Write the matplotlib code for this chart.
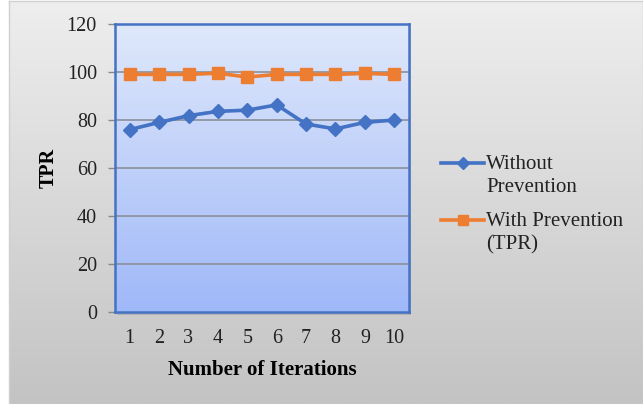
import numpy as np
import matplotlib
matplotlib.use("Agg")
import matplotlib.pyplot as plt
from matplotlib.lines import Line2D
from matplotlib.patches import Rectangle
from matplotlib.colors import LinearSegmentedColormap

iterations = [1, 2, 3, 4, 5, 6, 7, 8, 9, 10]
without_prevention = [76.0, 79.0, 81.8, 83.6, 84.1, 86.3, 78.3, 76.3, 79.0, 80.0]
with_prevention = [99.0, 99.0, 99.0, 99.5, 97.9, 99.0, 99.0, 99.0, 99.4, 99.0]
y_ticks = [0, 20, 40, 60, 80, 100, 120]
series_labels = ["Without\nPrevention", "With Prevention\n(TPR)"]

BLUE = "#4472C4"
ORANGE = "#ED7D31"
SERIF = ["Liberation Serif", "DejaVu Serif"]

W, H = 643, 404
fig = plt.figure(figsize=(W / 100, H / 100), dpi=100)
fig.patch.set_facecolor("white")

# Chart area: grey vertical gradient with a thin border
bg = fig.add_axes([9 / W, 0, 1 - 9 / W, 1 - 1 / H], zorder=-5)
grad = np.linspace(0, 1, 256).reshape(-1, 1)
grey_cmap = LinearSegmentedColormap.from_list("g", ["#eeeeee", "#c3c3c3"])
bg.imshow(grad, cmap=grey_cmap, aspect="auto", extent=[0, 1, 0, 1], origin="upper")
bg.set_xlim(0, 1); bg.set_ylim(0, 1)
bg.set_xticks([]); bg.set_yticks([])
for s in bg.spines.values():
    s.set_color("#d0d0d0"); s.set_linewidth(1.0)

# Plot area
left, right, top, bottom = 115, 409, 24, 312
ax = fig.add_axes([left / W, 1 - bottom / H, (right - left) / W, (bottom - top) / H])

blue_cmap = LinearSegmentedColormap.from_list("b", ["#dfe8fb", "#9fb8f8"])
ax.imshow(grad, cmap=blue_cmap, aspect="auto", extent=[0.5, 10.5, 0, 120],
          origin="upper", zorder=0)
ax.set_xlim(0.5, 10.5)
ax.set_ylim(0, 120)

# soft drop shadow behind the plot area
fig.add_artist(Rectangle(((left + 2) / W, 1 - (bottom + 3) / H), (right - left) / W,
                         (bottom - top) / H, transform=fig.transFigure,
                         facecolor="#9a9a9a", edgecolor="none", alpha=0.5, zorder=-1))

for y in y_ticks[1:-1]:
    ax.axhline(y, color="#8a8f9a", linewidth=1.2, zorder=1)

ax.plot(iterations, without_prevention, color=BLUE, linewidth=2.6, marker="D",
        markersize=7.5, zorder=3)
ax.plot(iterations, with_prevention, color=ORANGE, linewidth=2.6, marker="s",
        markersize=8, zorder=3)

for s in ax.spines.values():
    s.set_color(BLUE); s.set_linewidth(1.8)

ax.set_yticks(y_ticks)
ax.set_yticklabels([str(v) for v in y_ticks], fontfamily=SERIF, fontsize=14.5, color="#222222")
ax.set_xticks(iterations)
ax.set_xticklabels([str(v) for v in iterations], fontfamily=SERIF, fontsize=14.5, color="#222222")
ax.tick_params(axis="y", length=5, width=1, color="#888888", pad=8, direction="out")
ax.tick_params(axis="x", length=0, pad=12)

ax.set_ylabel("TPR", fontfamily=SERIF, fontsize=14.5, fontweight="bold", labelpad=6)
ax.set_xlabel("Number of Iterations", fontfamily=SERIF, fontsize=15, fontweight="bold",
              labelpad=9)

# Legend entries
entries = [(BLUE, "D", 6.5, 163, series_labels[0]),
           (ORANGE, "s", 7.5, 220, series_labels[1])]
for color, marker, ms, ypx, label in entries:
    yf = 1 - ypx / H
    fig.add_artist(Line2D([441 / W, 484 / W], [yf, yf], transform=fig.transFigure,
                          color=color, linewidth=2.6))
    fig.add_artist(Line2D([462.5 / W], [yf], transform=fig.transFigure,
                          color=color, marker=marker, markersize=ms, linestyle="none"))
    fig.text(486 / W, yf + 8 / H, label, fontfamily=SERIF, fontsize=15,
             color="#222222", va="top", ha="left", linespacing=1.3)

fig.savefig("out.png", dpi=100)
